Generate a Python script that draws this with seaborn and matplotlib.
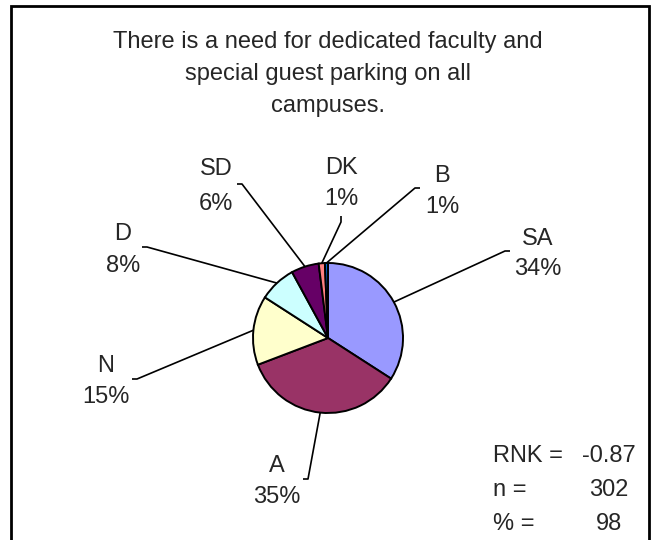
import matplotlib
matplotlib.use("Agg")
import matplotlib.pyplot as plt
import numpy as np
import seaborn as sns

# survey answers, clockwise from 12 o'clock (counts out of n = 302)
categories = ["SA", "A", "N", "D", "SD", "DK", "B"]
counts = [103, 106, 45, 24, 18, 4, 2]
slice_colors = ["#9999FF", "#993366", "#FFFFCC", "#CCFFFF",
                "#660066", "#FF8080", "#0066CC"]

title_lines = ["There is a need for dedicated faculty and",
               "special guest parking on all",
               "campuses."]
stat_names = ["RNK =", "n =", "% ="]
stat_values = ["-0.87", "302", "98"]

# label layout in pixels (x centre, baseline of name, baseline of %,
# elbow of leader line, end of the little tick)
label_pos = {
    "SA": (538, 245, 275, (505, 251), (510, 251)),
    "A": (277, 472, 503, (308, 479), (303, 479)),
    "N": (106, 372, 403, (137, 379), (132, 379)),
    "D": (123, 240, 272, (147, 247), (142, 247)),
    "SD": (216, 175, 210, (242, 184), (237, 184)),
    "DK": (341, 174, 205, (341, 222), (341, 216)),
    "B": (442, 182, 213, (415, 188), (420, 188)),
}

W, H = 655, 540
PIE_C = (328, 338)
PIE_R = 75


def Y(py):
    # pixel row -> data y
    return H - py


sns.set_style("white")
plt.rcParams['font.family'] = ['Liberation Sans', 'DejaVu Sans']
FS = 17

fig = plt.figure(figsize=(W / 100, H / 100), dpi=100)
ax = fig.add_axes([0, 0, 1, 1])

wedges, _ = ax.pie(
    counts, colors=sns.color_palette(slice_colors), startangle=90,
    counterclock=False, center=(PIE_C[0], Y(PIE_C[1])), radius=PIE_R,
    frame=True, wedgeprops={'edgecolor': 'black', 'linewidth': 1.4})

ax.set_xlim(0, W)
ax.set_ylim(0, H)
ax.set_aspect('auto')
ax.axis('off')

total = sum(counts)
# leader lines + labels
for w, cat, c in zip(wedges, categories, counts):
    xc, yb1, yb2, elbow, tick = label_pos[cat]
    mid = np.deg2rad((w.theta1 + w.theta2) / 2)
    sx = PIE_C[0] + PIE_R * np.cos(mid)
    sy = Y(PIE_C[1]) + PIE_R * np.sin(mid)
    ax.plot([sx, elbow[0], tick[0]], [sy, Y(elbow[1]), Y(tick[1])],
            color='black', lw=1.2, solid_capstyle='butt')
    ax.text(xc, Y(yb1), cat, ha='center', va='baseline', fontsize=FS)
    ax.text(xc, Y(yb2), f"{round(100 * c / total)}%", ha='center',
            va='baseline', fontsize=FS)

# title
for i, line in enumerate(title_lines):
    ax.text(328, Y(48 + 32 * i), line, ha='center', va='baseline',
            fontsize=FS)

# stats block
for i, (nm, val) in enumerate(zip(stat_names, stat_values)):
    ax.text(493, Y(462 + 34 * i), nm, ha='left', va='baseline', fontsize=FS)
    ax.text(609, Y(462 + 34 * i), val, ha='center', va='baseline',
            fontsize=FS)

# frame (bottom edge runs off the picture)
ax.plot([10.5, 10.5, 648.5, 648.5], [-5, Y(6), Y(6), -5],
        color='black', lw=2, solid_joinstyle='miter', clip_on=False)

fig.savefig("out.png", dpi=100)
